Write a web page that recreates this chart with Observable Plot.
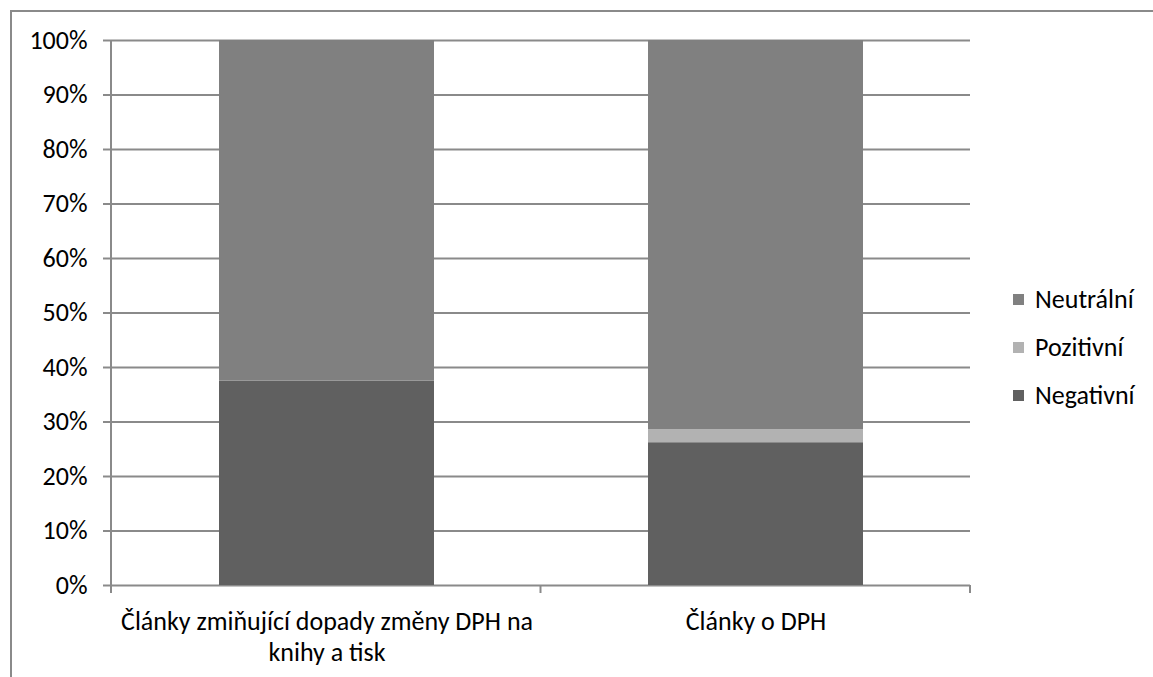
<!DOCTYPE html>
<html>
<head>
<meta charset="utf-8">
<script src="https://cdn.jsdelivr.net/npm/d3@7"></script>
<script src="https://cdn.jsdelivr.net/npm/@observablehq/plot@0.6"></script>
<style>
  html, body { margin: 0; padding: 0; background: #fff; overflow: hidden; }
  #wrap { position: relative; width: 1153px; height: 677px; font-family: Carlito, Calibri, Lato, sans-serif; }
  #border { position: absolute; left: 10px; top: 10px; width: 1200px; height: 800px; border: 2px solid #8a8a8a; box-sizing: border-box; }
  #chart { position: absolute; left: 0; top: 0; }
  #legend { position: absolute; left: 1013px; top: 275px; font-size: 26px; color: #000; }
  .item { display: flex; align-items: center; height: 48px; }
  .sw { width: 11px; height: 11px; margin-right: 11px; }
</style>
</head>
<body>
<div id="wrap">
  <div id="border"></div>
  <div id="chart"></div>
  <div id="legend"></div>
</div>
<script>
const categories = ["Články zmiňující dopady změny DPH na knihy a tisk", "Články o DPH"];
const categoryLabels = ["Články zmiňující dopady změny DPH na\nknihy a tisk", "Články o DPH"];
const series = ["Negativní", "Pozitivní", "Neutrální"];
const negativni = [0.375, 0.262];
const pozitivni = [0.0, 0.024];
const neutralni = [0.625, 0.714];
const seriesColors = ["#606060", "#b2b2b2", "#808080"];
const yTicks = [0, 0.1, 0.2, 0.3, 0.4, 0.5, 0.6, 0.7, 0.8, 0.9, 1.0];

const valuesBySeries = [negativni, pozitivni, neutralni];
const rows = [];
series.forEach((s, si) => {
  categories.forEach((c, ci) => rows.push({category: c, series: s, value: valuesBySeries[si][ci]}));
});

const font = "Carlito, Calibri, Lato, sans-serif";
const gridColor = "#8a8a8a";

const plot = Plot.plot({
  width: 1153,
  height: 677,
  marginLeft: 111,
  marginRight: 183,
  marginTop: 40,
  marginBottom: 92,
  style: {fontFamily: font, fontSize: "26px", color: "#000", background: "transparent"},
  x: {domain: categories, paddingInner: 0.5, paddingOuter: 0.25},
  y: {domain: [0, 1]},
  color: {domain: series, range: seriesColors},
  marks: [
    Plot.gridY(yTicks, {stroke: gridColor, strokeOpacity: 1, strokeWidth: 2}),
    Plot.axisY(yTicks, {
      tickSize: 8, tickPadding: 16, stroke: gridColor, strokeWidth: 2,
      fill: "#000", fontSize: 26,
      tickFormat: d => Math.round(d * 100) + "%", label: null
    }),
    Plot.barY(rows, Plot.stackY({x: "category", y: "value", fill: "series", order: series})),
    // y axis line and category boundary ticks
    (index, scales, values, dim) => {
      const g = d3.create("svg:g").attr("stroke", gridColor).attr("stroke-width", 2);
      const left = dim.marginLeft, right = dim.width - dim.marginRight;
      const top = dim.marginTop, bottom = dim.height - dim.marginBottom;
      g.append("line").attr("x1", left).attr("x2", left).attr("y1", top).attr("y2", bottom + 8);
      const n = categories.length;
      for (let i = 1; i <= n; i++) {
        const x = left + i * (right - left) / n;
        g.append("line").attr("x1", x).attr("x2", x).attr("y1", bottom).attr("y2", bottom + 8);
      }
      return g.node();
    },
    Plot.axisX({
      tickSize: 0, tickPadding: 22, fill: "#000", fontSize: 26, lineHeight: 1.2,
      tickFormat: d => categoryLabels[categories.indexOf(d)], label: null
    })
  ]
});
document.getElementById("chart").appendChild(plot);

const legend = document.getElementById("legend");
series.slice().reverse().forEach(s => {
  const item = document.createElement("div");
  item.className = "item";
  const sw = document.createElement("span");
  sw.className = "sw";
  sw.style.background = seriesColors[series.indexOf(s)];
  const t = document.createElement("span");
  t.textContent = s;
  item.appendChild(sw);
  item.appendChild(t);
  legend.appendChild(item);
});
</script>
</body>
</html>
